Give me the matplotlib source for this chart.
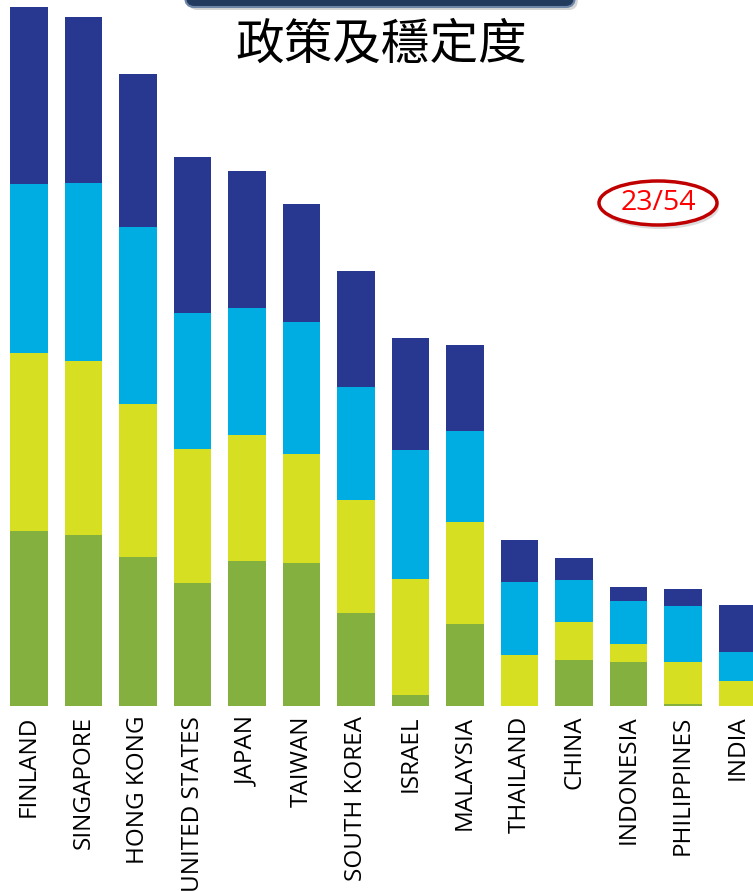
import matplotlib
matplotlib.use('Agg')
import matplotlib.pyplot as plt
from matplotlib.patches import Ellipse, FancyBboxPatch
import numpy as np

# countries, left to right
countries = ['FINLAND', 'SINGAPORE', 'HONG KONG', 'UNITED STATES', 'JAPAN', 'TAIWAN',
             'SOUTH KOREA', 'ISRAEL', 'MALAYSIA', 'THAILAND', 'CHINA', 'INDONESIA',
             'PHILIPPINES', 'INDIA']

# stacked segments, bottom to top
green  = [175, 171, 149, 123, 145, 143,  93,  11,  82,   0, 46, 44,  2,  0]
yellow = [178, 174, 153, 134, 126, 109, 113, 116, 102,  51, 38, 18, 42, 25]
lblue  = [169, 178, 177, 136, 127, 132, 113, 129,  91,  73, 42, 43, 56, 29]
dblue  = [177, 166, 153, 156, 137, 118, 116, 112,  86,  42, 22, 14, 17, 47]

colors = ['#84b040', '#d7df23', '#00ade3', '#283891']

W, H = 753, 891
fig = plt.figure(figsize=(W / 100, H / 100), dpi=100)
base = 706  # baseline in pixels from the top
ax = fig.add_axes([0, (H - base) / H, 1, base / H])

x = np.arange(len(countries))
bottom = np.zeros(len(countries))
for vals, c in zip([green, yellow, lblue, dblue], colors):
    ax.bar(x, vals, width=0.68, bottom=bottom, color=c, linewidth=0)
    bottom += np.array(vals)

ax.set_xlim(-29 / 54.5, (W - 29) / 54.5)
ax.set_ylim(0, base)
ax.set_yticks([])
ax.set_xticks(x)
ax.set_xticklabels(countries, rotation=90, fontsize=17.5, family='Open Sans', va='top')
ax.tick_params(axis='x', length=0, pad=7)
for s in ax.spines.values():
    s.set_visible(False)

# banner box cut off at top
shadow = FancyBboxPatch((188 / W, 1 - 10 / H), 390 / W, 40 / H,
                        boxstyle='round,pad=0,rounding_size=0.012',
                        transform=fig.transFigure, facecolor='#999999', alpha=0.4,
                        linewidth=0, zorder=5)
fig.add_artist(shadow)
box = FancyBboxPatch((185 / W, 1 - 7 / H), 390 / W, 40 / H,
                     boxstyle='round,pad=0,rounding_size=0.012',
                     transform=fig.transFigure, facecolor='#223a5e',
                     edgecolor='#6d86a8', linewidth=1.5, zorder=6)
fig.add_artist(box)

fig.text(381 / W, 1 - 45 / H, '政策及穩定度', ha='center', va='center',
         fontsize=35, family=['Noto Sans CJK TC', 'DejaVu Sans'], color='black')

# red ellipse badge
sh = Ellipse((660 / W, 1 - 207 / H), 118 / W, 44 / H, transform=fig.transFigure,
             facecolor='#bbbbbb', edgecolor='none', alpha=0.5, zorder=5)
fig.add_artist(sh)
el = Ellipse((658 / W, 1 - 203 / H), 118 / W, 44 / H, transform=fig.transFigure,
             facecolor='white', edgecolor='#c00000', linewidth=2.5, zorder=6)
fig.add_artist(el)
fig.text(658 / W, 1 - 203 / H, '23/54', ha='center', va='center', fontsize=20.5,
         family='Open Sans', color='#ff0000', zorder=7)

fig.savefig('out.png', dpi=100)
